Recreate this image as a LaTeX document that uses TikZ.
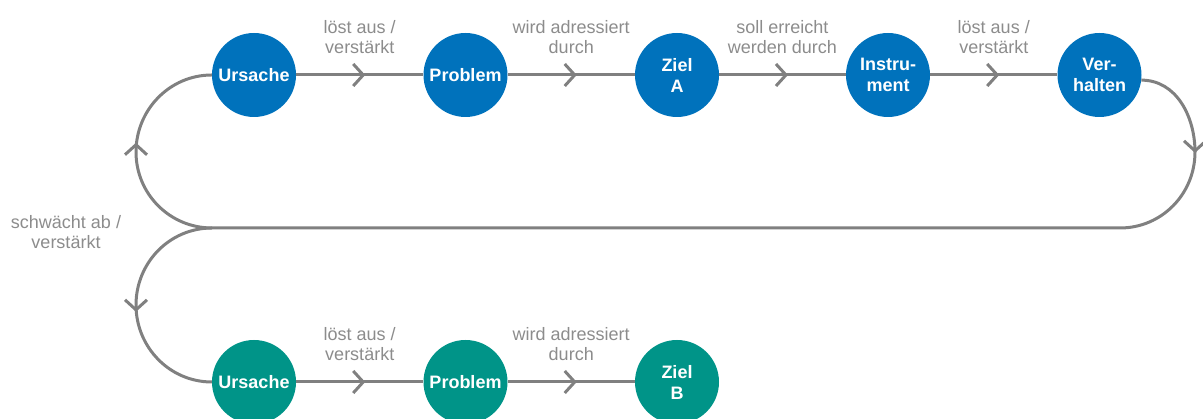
\documentclass[tikz,border=0pt]{standalone}
\usepackage{fontspec}
\setmainfont{Liberation Sans}
\usetikzlibrary{arrows.meta,decorations.markings}
\definecolor{cblue}{RGB}{0,114,188}
\definecolor{cteal}{RGB}{0,148,136}
\definecolor{lgray}{RGB}{128,128,128}
\definecolor{tgray}{RGB}{140,140,140}
\begin{document}
\begin{tikzpicture}[x=1pt,y=1pt,
 circ/.style={circle, minimum size=84pt, inner sep=0pt, text=white, font=\bfseries\fontsize{18}{21}\selectfont, align=center},
 bluec/.style={circ, fill=cblue},
 tealc/.style={circ, fill=cteal},
 conn/.style={draw=lgray, line width=3pt},
 markarrow/.style 2 args={postaction=decorate, decoration={markings, mark=at position #1 with {\arrow[xshift=#2]{Straight Barb[length=10pt,width=22pt]}}}},
 midarrow/.style={conn, markarrow={0.5}{5.5pt}},
 lbl/.style={text=tgray, font=\fontsize{18}{20}\selectfont, align=center, inner sep=0pt, above=20pt, midway}
]
\useasboundingbox (0,0) rectangle (1203,419);
% nodes
\node[bluec] (U1) at (254,344) {Ursache};
\node[bluec] (P1) at (465.5,344) {Problem};
\node[bluec] (ZA) at (677,344) {Ziel\\A};
\node[bluec] (I) at (888,344) {Instru-\\ment};
\node[bluec] (V) at (1099.5,344) {Ver-\\halten};
\node[tealc] (U2) at (254,37) {Ursache};
\node[tealc] (P2) at (465.5,37) {Problem};
\node[tealc] (ZB) at (677,37) {Ziel\\B};
% straight connectors
\draw[midarrow] (U1) -- node[lbl]{löst aus /\\verstärkt} (P1);
\draw[midarrow] (P1) -- node[lbl]{wird adressiert\\durch} (ZA);
\draw[midarrow] (ZA) -- node[lbl]{soll erreicht\\werden durch} (I);
\draw[midarrow] (I) -- node[lbl]{löst aus /\\verstärkt} (V);
\draw[midarrow] (U2) -- node[lbl]{löst aus /\\verstärkt} (P2);
\draw[midarrow] (P2) -- node[lbl]{wird adressiert\\durch} (ZB);
% feedback loop
\coordinate (R) at (1195,267);
\coordinate (RB) at (1120,191);
\coordinate (J) at (212,191);
\coordinate (LT) at (136,267);
\coordinate (LB) at (136,114);
\draw[conn, markarrow={0.999}{1pt}] (V.-7) to[out=0,in=90] (R);
\draw[conn] (R) to[out=-90,in=0] (RB) -- (J);
\draw[conn, markarrow={0.5}{9pt}] (J) to[out=180,in=-90] (LT) to[out=90,in=180] (U1.west);
\draw[conn, markarrow={0.5}{7pt}] (J) to[out=180,in=90] (LB) to[out=-90,in=180] (U2.west);
\node[text=tgray, font=\fontsize{18}{20}\selectfont, align=center, inner sep=0pt, anchor=south] (LL) at (66,170) {schwächt ab /\\verstärkt};
\end{tikzpicture}
\end{document}
